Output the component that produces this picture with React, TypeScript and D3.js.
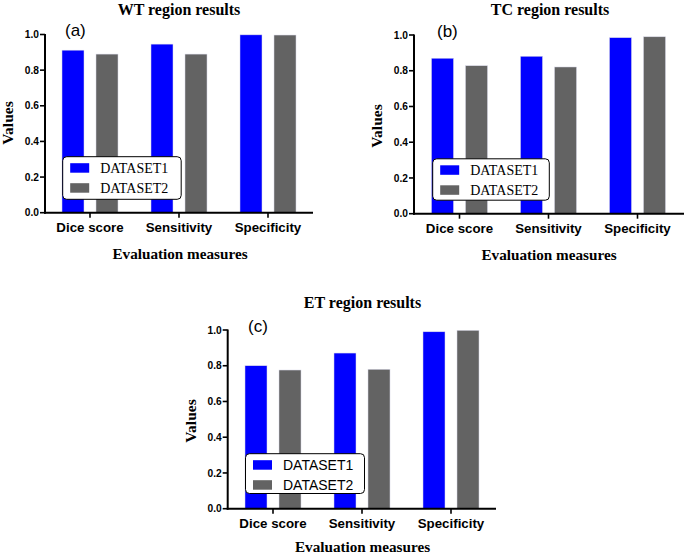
import React from "react";
import * as d3 from "d3";

const categories = ["Dice score", "Sensitivity", "Specificity"];
const seriesNames = ["DATASET1", "DATASET2"];
const yTicks = [0, 0.2, 0.4, 0.6, 0.8, 1.0];

const wtDataset1 = [0.912, 0.946, 0.998];
const wtDataset2 = [0.89, 0.89, 0.997];
const tcDataset1 = [0.87, 0.881, 0.985];
const tcDataset2 = [0.828, 0.821, 0.99];
const etDataset1 = [0.8, 0.871, 0.99];
const etDataset2 = [0.776, 0.78, 0.998];

const titles = ["WT region results", "TC region results", "ET region results"];
const tags = ["(a)", "(b)", "(c)"];

const colors = ["#0000ff", "#636363"];
const SERIF = "'Times New Roman', 'Liberation Serif', serif";
const SANS = "Arial, 'Liberation Sans', sans-serif";

type Layout = {
  axisX: number;
  xRange: [number, number];
  axisEnd: number;
  yBottom: number;
  yTop: number;
  titleX: number;
  titleY: number;
  tagX: number;
  tagY: number;
  xLabelX: number;
  xLabelY: number;
  yLabelX: number;
  yLabelY: number;
  legX: number;
  legY: number;
  legW: number;
  legH: number;
  legFont: string;
};

const layouts: Layout[] = [
  {
    axisX: 45, xRange: [45.5, 312.5], axisEnd: 313, yBottom: 212.7, yTop: 34.5,
    titleX: 179, titleY: 14.5, tagX: 65, tagY: 35.5, xLabelX: 180, xLabelY: 258.5,
    yLabelX: 13, yLabelY: 123, legX: 62.7, legY: 156.7, legW: 118.5, legH: 42.6, legFont: SERIF,
  },
  {
    axisX: 414, xRange: [415, 682], axisEnd: 684, yBottom: 213.7, yTop: 35,
    titleX: 550, titleY: 14.5, tagX: 437, tagY: 37, xLabelX: 549, xLabelY: 259.5,
    yLabelX: 381.5, yLabelY: 126, legX: 432.7, legY: 158.8, legW: 116.6, legH: 41.4, legFont: SERIF,
  },
  {
    axisX: 227.7, xRange: [228.5, 495.5], axisEnd: 496, yBottom: 508.7, yTop: 330,
    titleX: 362.5, titleY: 308, tagX: 248, tagY: 331.5, xLabelX: 362.5, xLabelY: 552,
    yLabelX: 195.5, yLabelY: 421, legX: 245.5, legY: 453.7, legW: 119, legH: 39.8, legFont: SANS,
  },
];

const panelData = [
  [wtDataset1, wtDataset2],
  [tcDataset1, tcDataset2],
  [etDataset1, etDataset2],
];

function Panel({ idx }: { idx: number }) {
  const L = layouts[idx];
  const series = panelData[idx];
  const x0 = d3.scaleBand<string>().domain(categories).range(L.xRange).padding(0);
  const x1 = d3
    .scaleBand<string>()
    .domain(seriesNames)
    .range([0, x0.bandwidth()])
    .paddingInner(0.353)
    .paddingOuter(0.485);
  const y = d3.scaleLinear().domain([0, 1]).range([L.yBottom, L.yTop]);

  return (
    <g>
      {categories.map((c, ci) =>
        seriesNames.map((s, si) => {
          const v = series[si][ci];
          return (
            <rect
              key={c + s}
              x={(x0(c) as number) + (x1(s) as number)}
              y={y(v)}
              width={x1.bandwidth()}
              height={y(0) - y(v)}
              fill={colors[si]}
              stroke="#d8d8e8"
              strokeWidth={0.5}
            />
          );
        })
      )}
      <line x1={L.axisX} x2={L.axisX} y1={y(1) - 0.5} y2={y(0) + 1} stroke="#000" strokeWidth={2} />
      {yTicks.map((t) => (
        <g key={t}>
          <line x1={L.axisX - 5} x2={L.axisX} y1={y(t)} y2={y(t)} stroke="#000" strokeWidth={1.6} />
          <text
            x={L.axisX - 6}
            y={y(t)}
            dy="0.35em"
            textAnchor="end"
            fontFamily={SANS}
            fontWeight="bold"
            fontSize={10.2}
            fill="#000"
          >
            {t.toFixed(1)}
          </text>
        </g>
      ))}
      <line x1={L.axisX - 1} x2={L.axisEnd} y1={y(0)} y2={y(0)} stroke="#000" strokeWidth={2} />
      {categories.map((c) => {
        const cx = (x0(c) as number) + x0.bandwidth() / 2;
        return (
          <g key={c}>
            <line x1={cx} x2={cx} y1={y(0)} y2={y(0) + 5} stroke="#000" strokeWidth={1.6} />
            <text
              x={cx}
              y={y(0) + 19.5}
              textAnchor="middle"
              fontFamily={SANS}
              fontWeight="bold"
              fontSize={13.3}
              fill="#000"
            >
              {c}
            </text>
          </g>
        );
      })}
      <text x={L.titleX} y={L.titleY} textAnchor="middle" fontFamily={SERIF} fontWeight="bold" fontSize={16} fill="#000">
        {titles[idx]}
      </text>
      <text x={L.tagX} y={L.tagY} fontFamily={SANS} fontSize={17} fill="#000">
        {tags[idx]}
      </text>
      <text x={L.xLabelX} y={L.xLabelY} textAnchor="middle" fontFamily={SERIF} fontWeight="bold" fontSize={15.2} fill="#000">
        Evaluation measures
      </text>
      <text
        transform={`translate(${L.yLabelX},${L.yLabelY}) rotate(-90)`}
        textAnchor="middle"
        fontFamily={SERIF}
        fontWeight="bold"
        fontSize={15.5}
        fill="#000"
      >
        Values
      </text>
      <rect x={L.legX} y={L.legY} width={L.legW} height={L.legH} rx={4} fill="#fff" stroke="#000" strokeWidth={1} />
      {seriesNames.map((s, si) => (
        <g key={s}>
          <rect x={L.legX + 7.5} y={L.legY + 6.5 + si * 20} width={19} height={9.5} fill={colors[si]} />
          <text x={L.legX + 37.5} y={L.legY + 16.5 + si * 20} fontFamily={L.legFont} fontSize={14} fill="#000">
            {s}
          </text>
        </g>
      ))}
    </g>
  );
}

export default function App() {
  return (
    <svg width={685} height={554} style={{ position: "absolute", left: 0, top: 0, background: "#fff" }}>
      <rect x={0} y={0} width={685} height={554} fill="#fff" />
      {layouts.map((_, i) => (
        <Panel key={i} idx={i} />
      ))}
    </svg>
  );
}
